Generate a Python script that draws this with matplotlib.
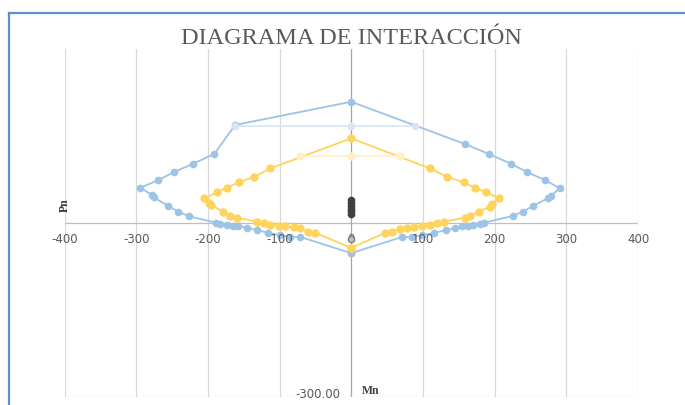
import matplotlib
matplotlib.use("Agg")
import matplotlib.pyplot as plt
from matplotlib.lines import Line2D

# outer interaction curve (Mn, Pn)
mn_outer = [0, -71, -85, -99, -116, -132, -146, -158, -165, -174, -183, -189,
            -227, -241, -255, -275, -278, -294, -269, -247, -221, -191, -162,
            0, 159, 192, 223, 245, 270, 291, 278, 274, 253, 239, 225, 185,
            179, 170, 163, 154, 145, 132, 116, 99, 85, 71, 0]
pn_outer = [-52, -24, -24, -21, -17, -12, -8, -5, -5, -4, -2, 0.5,
            12, 19.5, 29, 44, 48, 61, 74, 88, 102, 119, 169,
            209, 136, 119, 102, 88, 74, 60, 46.5, 42.5, 29, 19.5, 12, 0.5,
            -2, -4, -5, -6, -9, -12, -17, -21, -24, -24, -52]

# outer cap line
mn_outer_cap = [-162, 0, 89]
pn_outer_cap = [168, 168, 168]

# reduced interaction curve
mn_inner = [0, -50, -60, -71, -80, -92, -101, -113, -122, -131, -159, -169,
            -179, -195, -199, -205, -187, -174, -157, -135, -113, 0, 110,
            133, 157, 172, 188, 206, 196, 193, 178, 166, 158, 129, 119, 110,
            98, 87, 78, 68, 57, 47, 0]
pn_inner = [-43, -17, -15, -8, -7.5, -6, -5, -3, -0.5, 2, 9, 12,
            19.5, 31, 35, 42.5, 53, 61, 70, 80, 94, 146, 94,
            80, 70, 61, 53, 42.5, 33, 28, 19.5, 12, 9, 2, -0.5, -3,
            -5, -7, -8, -10, -15, -17, -43]

# reduced cap line
mn_inner_cap = [-71, 0, 68]
pn_inner_cap = [115.5, 115.5, 115.5]

# applied loads
mu_loads = [0, 0, 0, 0, 0, 0]
pu_loads = [16, 20, 25, 30, 35, 40]
mu_extra = [0]
pu_extra = [-28]

xticks = [-400, -300, -200, -100, 0, 100, 200, 300, 400]

fig = plt.figure(figsize=(6.85, 4.05), dpi=100)
ax = fig.add_axes([64.5 / 685, 1 - 397 / 405, (638 - 64.5) / 685, (397 - 49) / 405])

# chart frame
fig.add_artist(Line2D([9 / 685, 9 / 685], [0, 1 - 13 / 405], color="#5b8fcf", lw=1.6))
fig.add_artist(Line2D([9 / 685, 1], [1 - 13 / 405, 1 - 13 / 405], color="#5b8fcf", lw=1.6))

for x in xticks:
    if x != 0:
        ax.plot([x, x], [-300, 300], color="#d9d9d9", lw=0.9, zorder=0)
ax.plot([-400, 400], [-300, -300], color="#d9d9d9", lw=0.9, zorder=0)
ax.plot([-400, 400], [0, 0], color="#bfbfbf", lw=0.9, zorder=0)
ax.plot([0, 0], [-300, 300], color="#a6a6a6", lw=0.9, zorder=0)

ax.plot(mn_outer, pn_outer, color="#9dc3e6", lw=1.3, marker="o", ms=4.5,
        mec="#9dc3e6", mfc="#9dc3e6", zorder=2)
ax.plot(mn_outer_cap, pn_outer_cap, color="#dae5f4", lw=1.3, marker="o", ms=4.5,
        mec="#dae5f4", mfc="#dae5f4", zorder=2)
ax.plot(mn_inner, pn_inner, color="#ffd45c", lw=1.3, marker="o", ms=5,
        mec="#ffd45c", mfc="#ffd45c", zorder=3)
ax.plot(mn_inner_cap, pn_inner_cap, color="#fff0c8", lw=1.3, marker="o", ms=5,
        mec="#fff0c8", mfc="#fff0c8", zorder=3)
ax.plot(mu_loads, pu_loads, ls="none", marker="o", ms=4.5, color="#404040", zorder=4)
ax.plot(mu_extra, pu_extra, ls="none", marker="o", ms=4.5, mfc="#bfbfbf",
        mec="#7f7f7f", zorder=4)

ax.set_xlim(-400, 400)
ax.set_ylim(-300, 300)
for s in ax.spines.values():
    s.set_visible(False)
ax.set_yticks([])
ax.set_xticks([])
for x in xticks:
    ax.text(x, -18, str(x), ha="center", va="top", fontsize=8.5,
            color="#595959", family="DejaVu Sans")

ax.text(-15, -296, "-300.00", ha="right", va="center", fontsize=8.5,
        color="#595959", family="DejaVu Sans")
ax.text(15, -289, "Mn", ha="left", va="center", fontsize=8.5,
        color="#404040", family="Liberation Serif", weight="bold")
ax.text(-400, 30, "Pn", ha="center", va="center", fontsize=8.5, rotation=90,
        color="#404040", family="Liberation Serif", weight="bold")

fig.text(351 / 685, 1 - 38 / 405, "DIAGRAMA DE INTERACCIÓN", ha="center",
         va="center", fontsize=17.5, color="#595959", family="Liberation Serif")

fig.savefig("out.png", dpi=100)
